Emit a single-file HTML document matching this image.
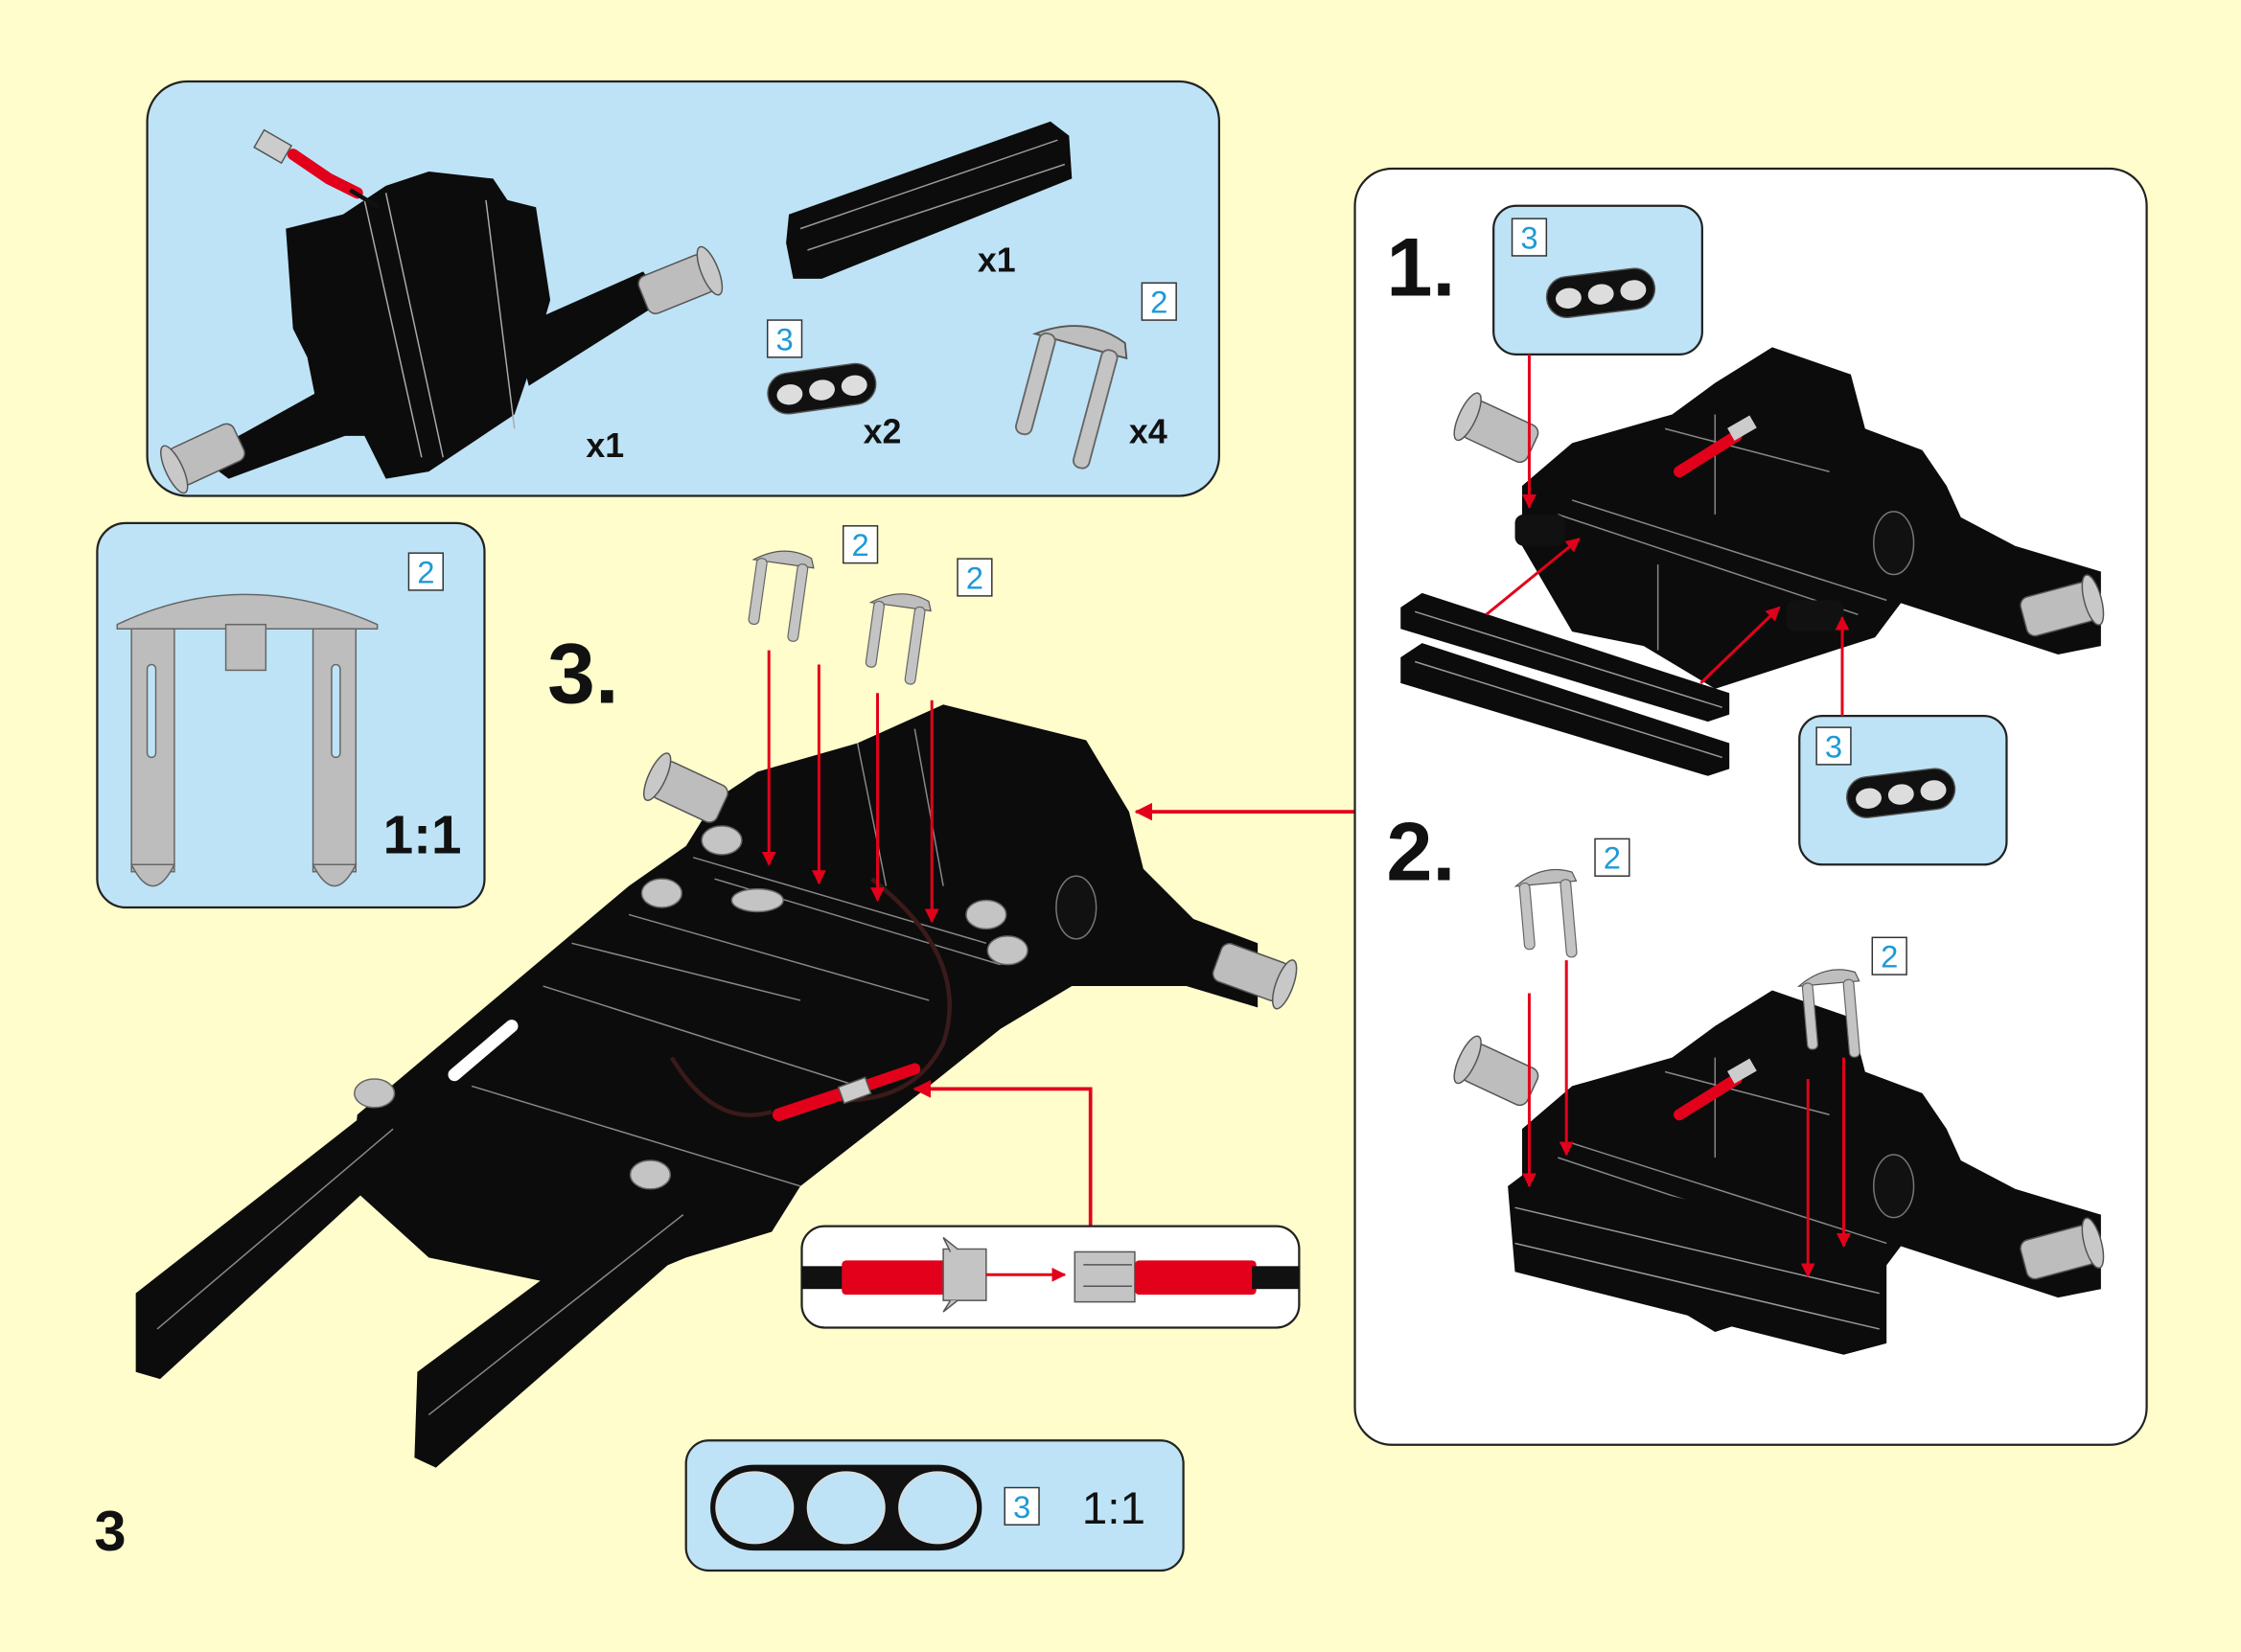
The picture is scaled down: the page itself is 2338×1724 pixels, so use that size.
<!DOCTYPE html>
<html><head><meta charset="utf-8"><style>
html,body{margin:0;padding:0;background:#FFFDCB;}
svg{display:block}
</style></head><body>
<svg width="2338" height="1724" viewBox="0 0 1568 1156" preserveAspectRatio="none" xmlns="http://www.w3.org/2000/svg" font-family="Liberation Sans, Arial, sans-serif">
<defs>
<marker id="ah" viewBox="0 0 10 10" refX="9" refY="5" markerWidth="5" markerHeight="5" orient="auto"><path d="M0,0 L10,5 L0,10 z" fill="#E3001B"/></marker>
<g id="b3">
 <rect x="-40" y="-15" width="80" height="30" rx="15" fill="#111" stroke="#555" stroke-width="1"/>
 <ellipse cx="-24" cy="1" rx="11" ry="9" fill="#ddd" stroke="#111" stroke-width="3"/>
 <ellipse cx="0" cy="1" rx="11" ry="9" fill="#ddd" stroke="#111" stroke-width="3"/>
 <ellipse cx="24" cy="1" rx="11" ry="9" fill="#ddd" stroke="#111" stroke-width="3"/>
</g>
<g id="pin">
 <path d="M-25,8 Q0,-10 25,0 L28,8 Z" fill="#BEBEBE" stroke="#555" stroke-width="1"/>
 <rect x="-22" y="6" width="9" height="58" rx="4" fill="#C4C4C4" stroke="#666" stroke-width="1"/>
 <rect x="14" y="6" width="9" height="68" rx="4" fill="#C4C4C4" stroke="#666" stroke-width="1"/>
</g>
<g id="lab2"><rect x="0" y="0" width="24" height="26" fill="#fff" stroke="#333" stroke-width="1"/><text x="12" y="21" font-size="22" fill="#1E9AD6" text-anchor="middle">2</text></g>
<g id="lab3"><rect x="0" y="0" width="24" height="26" fill="#fff" stroke="#333" stroke-width="1"/><text x="12" y="21" font-size="22" fill="#1E9AD6" text-anchor="middle">3</text></g>
<g id="axle">
 <rect x="-30" y="-14" width="50" height="28" rx="6" fill="#BDBDBD" stroke="#555" stroke-width="1"/>
 <ellipse cx="20" cy="0" rx="6" ry="18" fill="#C8C8C8" stroke="#555" stroke-width="1"/>
</g>
<g id="s1body">
 <path d="M1065,340 L1100,310 L1170,290 L1200,268 L1240,243 L1295,262 L1305,300 L1345,315 L1362,340 L1372,362 L1410,382 L1470,400 L1470,452 L1440,458 L1330,422 L1312,446 L1262,462 L1200,482 L1150,452 L1100,442 L1065,382 Z" fill="#0c0c0c"/>
 <path d="M1100,350 L1320,420 M1165,300 L1280,330 M1200,290 L1200,360 M1090,360 L1300,430 M1160,455 L1160,395" stroke="#888" stroke-width="1" fill="none"/>
 <path d="M1175,330 L1215,305" stroke="#E3001B" stroke-width="8" stroke-linecap="round"/>
 <rect x="1210" y="295" width="18" height="10" fill="#ccc" transform="rotate(-30 1218 300)"/>
 <g transform="translate(1045,300) rotate(25)"><use href="#axle" transform="scale(-1,1)"/></g>
 <g transform="translate(1445,425) rotate(-15)"><use href="#axle"/></g>
 <ellipse cx="1325" cy="380" rx="14" ry="22" fill="#111" stroke="#777"/>
</g>
</defs>

<rect width="1568" height="1156" fill="#FFFDCB"/>

<rect x="103" y="57" width="750" height="290" rx="28" fill="#BEE3F6" stroke="#222" stroke-width="1.5"/>
<path d="M200,160 L240,150 L270,130 L300,120 L345,125 L355,140 L375,145 L385,210 L372,255 L360,290 L330,310 L300,330 L270,335 L255,305 L240,305 L225,300 L215,250 L205,230 Z" fill="#0c0c0c"/>
<path d="M255,140 L295,320 M270,135 L310,320 M340,140 L360,300" stroke="#aaa" stroke-width="1" fill="none"/>
<path d="M140,320 L230,270 L255,300 L160,335 Z" fill="#0c0c0c"/>
<path d="M360,230 L450,190 L465,210 L370,270 Z" fill="#0c0c0c"/>
<g transform="translate(140,320) rotate(-25)"><use href="#axle" transform="scale(-1,1)"/></g>
<g transform="translate(478,197) rotate(-22)"><use href="#axle"/></g>
<path d="M205,108 L230,125 L250,135" stroke="#E3001B" stroke-width="8" stroke-linecap="round"/>
<rect x="180" y="95" width="22" height="14" fill="#ccc" stroke="#555" transform="rotate(30 190 102)"/>
<path d="M245,133 L265,145" stroke="#111" stroke-width="3"/>
<text x="410" y="320" font-size="24" font-weight="bold" fill="#111">x1</text>
<path d="M552,150 L735,85 L748,95 L750,125 L575,195 L555,195 L550,170 Z" fill="#0c0c0c"/>
<path d="M560,160 L740,98 M565,175 L745,115" stroke="#999" stroke-width="1"/>
<text x="684" y="190" font-size="24" font-weight="bold" fill="#111">x1</text>
<use href="#lab3" x="537" y="224"/>
<g transform="translate(575,272) rotate(-8)"><use href="#b3" transform="scale(0.95)"/></g>
<text x="604" y="310" font-size="24" font-weight="bold" fill="#111">x2</text>
<use href="#lab2" x="799" y="198"/>
<g transform="translate(757,232) rotate(15)"><use href="#pin" transform="scale(1.25)"/></g>
<text x="790" y="310" font-size="24" font-weight="bold" fill="#111">x4</text>

<rect x="68" y="366" width="271" height="269" rx="20" fill="#BEE3F6" stroke="#222" stroke-width="1.5"/>
<use href="#lab2" x="286" y="387"/>
<path d="M82,437 Q170,395 264,437 L264,440 L82,440 Z" fill="#BDBDBD" stroke="#666"/>
<rect x="158" y="437" width="28" height="32" fill="#BDBDBD" stroke="#666"/>
<rect x="92" y="440" width="30" height="170" fill="#BDBDBD" stroke="#666"/>
<path d="M92,605 Q107,635 122,605 Z" fill="#BDBDBD" stroke="#666"/>
<rect x="219" y="440" width="30" height="170" fill="#BDBDBD" stroke="#666"/>
<path d="M219,605 Q234,635 249,605 Z" fill="#BDBDBD" stroke="#666"/>
<rect x="103" y="465" width="6" height="65" rx="3" fill="#BEE3F6" stroke="#666"/>
<rect x="232" y="465" width="6" height="65" rx="3" fill="#BEE3F6" stroke="#666"/>
<text x="268" y="597" font-size="38" font-weight="bold" fill="#111">1:1</text>

<text x="383" y="492" font-size="60" font-weight="bold" fill="#111">3.</text>
<path d="M95,905 L270,768 L292,775 L292,800 L112,965 L95,960 Z" fill="#0c0c0c"/>
<path d="M292,960 L470,828 L487,838 L487,868 L305,1027 L290,1020 Z" fill="#0c0c0c"/>
<path d="M250,780 L440,620 L480,592 L500,560 L530,540 L600,520 L660,493 L760,518 L790,568 L800,608 L835,643 L880,660 L880,705 L830,690 L750,690 L700,720 L650,760 L560,830 L540,862 L480,880 L420,905 L300,880 L245,830 Z" fill="#0c0c0c"/>
<path d="M110,930 L275,790 M300,990 L478,850 M485,600 L690,660 M500,615 L700,675 M440,640 L650,700 M380,690 L600,760 M330,760 L560,830 M400,660 L560,700 M600,520 L620,620 M640,510 L660,620" stroke="#888" stroke-width="1" fill="none"/>
<g fill="#C4C4C4" stroke="#666"><ellipse cx="505" cy="588" rx="14" ry="10"/><ellipse cx="463" cy="625" rx="14" ry="10"/><ellipse cx="690" cy="640" rx="14" ry="10"/><ellipse cx="705" cy="665" rx="14" ry="10"/><ellipse cx="262" cy="765" rx="14" ry="10"/><ellipse cx="455" cy="822" rx="14" ry="10"/><ellipse cx="530" cy="630" rx="18" ry="8"/></g>
<g transform="translate(478,552) rotate(25)"><use href="#axle" transform="scale(-1,1)"/></g>
<g transform="translate(880,682) rotate(20)"><use href="#axle"/></g>
<ellipse cx="753" cy="635" rx="14" ry="22" fill="#111" stroke="#777"/>
<path d="M610,615 Q680,670 660,730 Q640,770 590,770 M470,740 Q500,790 540,778" stroke="#3a1a1a" stroke-width="3" fill="none"/>
<path d="M545,780 L590,765" stroke="#E3001B" stroke-width="9" stroke-linecap="round"/>
<path d="M605,760 L640,748" stroke="#E3001B" stroke-width="8" stroke-linecap="round"/>
<rect x="588" y="757" width="20" height="12" fill="#ccc" stroke="#555" transform="rotate(-20 598 763)"/>
<path d="M318,752 L358,718" stroke="#fff" stroke-width="9" stroke-linecap="round"/>
<g transform="translate(548,388) rotate(8)"><use href="#pin" transform="scale(0.8)"/></g>
<g transform="translate(630,418) rotate(8)"><use href="#pin" transform="scale(0.8)"/></g>
<use href="#lab2" x="590" y="368"/>
<use href="#lab2" x="670" y="391"/>
<g stroke="#E3001B" stroke-width="2" marker-end="url(#ah)">
<line x1="538" y1="455" x2="538" y2="605"/>
<line x1="573" y1="465" x2="573" y2="618"/>
<line x1="614" y1="485" x2="614" y2="630"/>
<line x1="652" y1="490" x2="652" y2="645"/>
</g>
<line x1="948" y1="568" x2="795" y2="568" stroke="#E3001B" stroke-width="2.5" marker-end="url(#ah)"/>
<path d="M763,858 L763,762 L640,762" stroke="#E3001B" stroke-width="2.5" fill="none" marker-end="url(#ah)"/>
<rect x="561" y="858" width="348" height="71" rx="16" fill="#fff" stroke="#222" stroke-width="1.5"/>
<rect x="561" y="886" width="40" height="16" fill="#111"/>
<rect x="589" y="882" width="75" height="24" rx="3" fill="#E3001B"/>
<path d="M660,874 L690,874 L690,910 L660,910 Z" fill="#C4C4C4" stroke="#555"/>
<path d="M665,876 L660,866 L670,874 M665,910 L660,918 L670,910" stroke="#555" fill="#C4C4C4"/>
<line x1="690" y1="892" x2="745" y2="892" stroke="#E3001B" stroke-width="2" marker-end="url(#ah)"/>
<rect x="752" y="876" width="42" height="35" fill="#C4C4C4" stroke="#555"/>
<path d="M758,885 L792,885 M758,900 L792,900" stroke="#555"/>
<rect x="794" y="882" width="85" height="24" rx="3" fill="#E3001B"/>
<rect x="876" y="886" width="33" height="16" fill="#111"/>

<rect x="480" y="1008" width="348" height="91" rx="16" fill="#BEE3F6" stroke="#222" stroke-width="1.5"/>
<rect x="497" y="1025" width="190" height="60" rx="30" fill="#111"/>
<g fill="#BEE3F6" stroke="#ddd" stroke-width="1"><ellipse cx="528" cy="1055" rx="27" ry="25"/><ellipse cx="592" cy="1055" rx="27" ry="25"/><ellipse cx="656" cy="1055" rx="27" ry="25"/></g>
<use href="#lab3" x="703" y="1041"/>
<text x="757" y="1066" font-size="32" fill="#111">1:1</text>

<text x="66" y="1085" font-size="40" font-weight="bold" fill="#111">3</text>

<rect x="948" y="118" width="554" height="893" rx="26" fill="#fff" stroke="#222" stroke-width="1.5"/>
<text x="970" y="207" font-size="58" font-weight="bold" fill="#111">1.</text>
<text x="970" y="616" font-size="58" font-weight="bold" fill="#111">2.</text>
<rect x="1045" y="144" width="146" height="104" rx="16" fill="#BEE3F6" stroke="#222" stroke-width="1.5"/>
<use href="#lab3" x="1058" y="153"/>
<g transform="translate(1120,205) rotate(-7)"><use href="#b3" transform="scale(0.95)"/></g>
<rect x="1259" y="501" width="145" height="104" rx="16" fill="#BEE3F6" stroke="#222" stroke-width="1.5"/>
<use href="#lab3" x="1271" y="509"/>
<g transform="translate(1330,555) rotate(-7)"><use href="#b3" transform="scale(0.95)"/></g>
<use href="#s1body"/>
<rect x="1060" y="360" width="35" height="22" rx="6" fill="#111"/>
<rect x="1250" y="420" width="40" height="22" rx="6" fill="#111"/>
<path d="M980,425 L995,415 L1210,485 L1210,500 L1195,505 L980,440 Z" fill="#0c0c0c"/>
<path d="M980,460 L995,450 L1210,520 L1210,538 L1195,543 L980,478 Z" fill="#0c0c0c"/>
<path d="M990,428 L1205,495 M990,463 L1205,530" stroke="#999" stroke-width="1"/>
<g stroke="#E3001B" stroke-width="2" marker-end="url(#ah)" fill="none">
<line x1="1070" y1="248" x2="1070" y2="355"/>
<line x1="1040" y1="430" x2="1105" y2="377"/>
<line x1="1190" y1="478" x2="1245" y2="425"/>
<line x1="1289" y1="501" x2="1289" y2="432"/>
</g>
<use href="#s1body" transform="translate(0,450)"/>
<path d="M1055,830 L1075,815 L1320,872 L1320,940 L1290,948 L1060,890 Z" fill="#0c0c0c"/>
<path d="M1060,845 L1315,905 M1060,870 L1315,930" stroke="#999" stroke-width="1"/>
<g transform="translate(1080,612) rotate(-5)"><use href="#pin" transform="scale(0.8)"/></g>
<g transform="translate(1278,682) rotate(-5)"><use href="#pin" transform="scale(0.8)"/></g>
<use href="#lab2" x="1116" y="587"/>
<use href="#lab2" x="1310" y="656"/>
<g stroke="#E3001B" stroke-width="2" marker-end="url(#ah)">
<line x1="1070" y1="695" x2="1070" y2="830"/>
<line x1="1096" y1="672" x2="1096" y2="808"/>
<line x1="1265" y1="755" x2="1265" y2="893"/>
<line x1="1290" y1="740" x2="1290" y2="872"/>
</g>
</svg>
</body></html>
